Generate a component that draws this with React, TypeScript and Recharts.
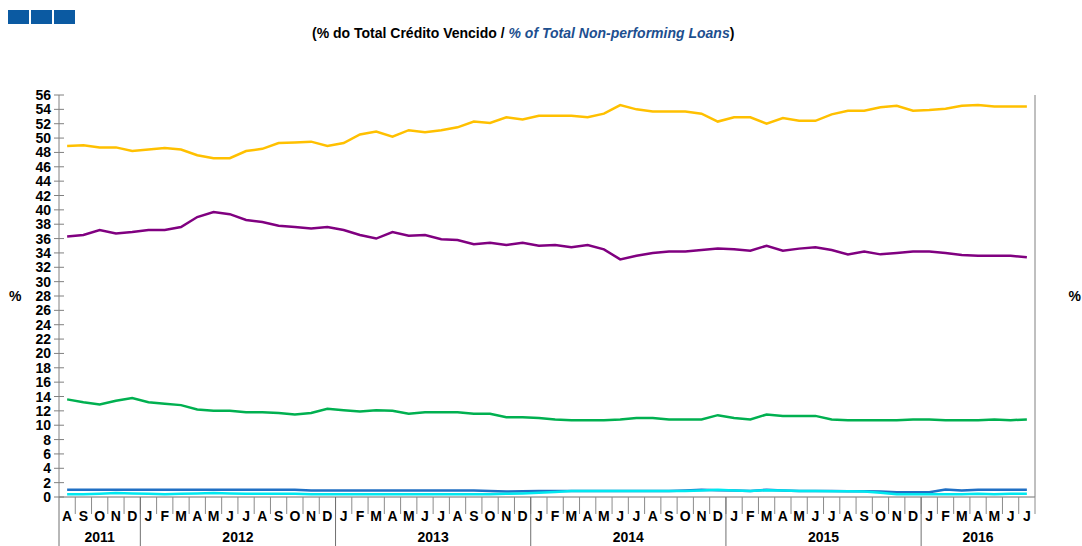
import { LineChart, Line, XAxis, YAxis } from 'recharts';

// Aug 2011 .. Jul 2016, monthly
const MONTHS = [
  'A', 'S', 'O', 'N', 'D',
  'J', 'F', 'M', 'A', 'M', 'J', 'J', 'A', 'S', 'O', 'N', 'D',
  'J', 'F', 'M', 'A', 'M', 'J', 'J', 'A', 'S', 'O', 'N', 'D',
  'J', 'F', 'M', 'A', 'M', 'J', 'J', 'A', 'S', 'O', 'N', 'D',
  'J', 'F', 'M', 'A', 'M', 'J', 'J', 'A', 'S', 'O', 'N', 'D',
  'J', 'F', 'M', 'A', 'M', 'J', 'J',
];
const YEARS = ['2011', '2012', '2013', '2014', '2015', '2016'];
const YEAR_MONTHS = [5, 12, 12, 12, 12, 7];

const YELLOW = [
  48.9, 49.0, 48.7, 48.7, 48.2,
  48.4, 48.6, 48.4, 47.6, 47.2, 47.2, 48.2, 48.5, 49.3, 49.4, 49.5, 48.9,
  49.3, 50.5, 50.9, 50.2, 51.1, 50.8, 51.1, 51.5, 52.3, 52.1, 52.9, 52.6,
  53.1, 53.1, 53.1, 52.9, 53.4, 54.6, 54.0, 53.7, 53.7, 53.7, 53.4, 52.3,
  52.9, 52.9, 52.0, 52.8, 52.4, 52.4, 53.3, 53.8, 53.8, 54.3, 54.5, 53.8,
  53.9, 54.1, 54.5, 54.6, 54.4, 54.4, 54.4,
];
const PURPLE = [
  36.3, 36.5, 37.2, 36.7, 36.9,
  37.2, 37.2, 37.6, 39.0, 39.7, 39.4, 38.6, 38.3, 37.8, 37.6, 37.4, 37.6,
  37.2, 36.5, 36.0, 36.9, 36.4, 36.5, 35.9, 35.8, 35.2, 35.4, 35.1, 35.4,
  35.0, 35.1, 34.8, 35.1, 34.5, 33.1, 33.6, 34.0, 34.2, 34.2, 34.4, 34.6,
  34.5, 34.3, 35.0, 34.3, 34.6, 34.8, 34.4, 33.8, 34.2, 33.8, 34.0, 34.2,
  34.2, 34.0, 33.7, 33.6, 33.6, 33.6, 33.4,
];
const GREEN = [
  13.6, 13.2, 12.9, 13.4, 13.8,
  13.2, 13.0, 12.8, 12.2, 12.0, 12.0, 11.8, 11.8, 11.7, 11.5, 11.7, 12.3,
  12.1, 11.9, 12.1, 12.0, 11.6, 11.8, 11.8, 11.8, 11.6, 11.6, 11.1, 11.1,
  11.0, 10.8, 10.7, 10.7, 10.7, 10.8, 11.0, 11.0, 10.8, 10.8, 10.8, 11.4,
  11.0, 10.8, 11.5, 11.3, 11.3, 11.3, 10.8, 10.7, 10.7, 10.7, 10.7, 10.8,
  10.8, 10.7, 10.7, 10.7, 10.8, 10.7, 10.8,
];
const BLUE = [
  1.0, 1.0, 1.0, 1.0, 1.0,
  1.0, 1.0, 1.0, 1.0, 1.0, 1.0, 1.0, 1.0, 1.0, 1.0, 0.9, 0.9,
  0.9, 0.9, 0.9, 0.9, 0.9, 0.9, 0.9, 0.9, 0.9, 0.85, 0.75, 0.8,
  0.85, 0.85, 0.85, 0.85, 0.85, 0.85, 0.85, 0.85, 0.85, 0.9, 1.0, 0.95,
  0.9, 0.85, 1.0, 0.9, 0.85, 0.85, 0.85, 0.8, 0.8, 0.75, 0.65, 0.65,
  0.65, 1.05, 0.9, 1.0, 1.0, 1.0, 1.0,
];
const CYAN = [
  0.4, 0.4, 0.45, 0.55, 0.5,
  0.45, 0.4, 0.45, 0.5, 0.55, 0.5, 0.45, 0.45, 0.45, 0.45, 0.4, 0.4,
  0.4, 0.4, 0.4, 0.4, 0.4, 0.4, 0.4, 0.4, 0.4, 0.4, 0.45, 0.5,
  0.6, 0.7, 0.85, 0.85, 0.85, 0.85, 0.85, 0.85, 0.85, 0.85, 0.9, 1.0,
  0.9, 0.85, 0.95, 0.9, 0.85, 0.85, 0.8, 0.8, 0.75, 0.6, 0.4, 0.4,
  0.4, 0.4, 0.4, 0.45, 0.4, 0.45, 0.45,
];
const Y_TICKS = Array.from({ length: 29 }, (_, i) => i * 2);

const W = 1082;
const H = 546;
const LEFT_W = 59;
const RIGHT_W = 47;
const PLOT_W = W - LEFT_W - RIGHT_W;
const STEP = PLOT_W / MONTHS.length;
const FONT = '"Liberation Sans", Arial, sans-serif';

const data = MONTHS.map((m, i) => ({
  idx: i,
  yellow: YELLOW[i],
  purple: PURPLE[i],
  green: GREEN[i],
  blue: BLUE[i],
  cyan: CYAN[i],
}));

// first month index of every year
const yearStarts: number[] = [];
YEAR_MONTHS.reduce((acc, n) => { yearStarts.push(acc); return acc + n; }, 0);

function MonthTick({ x, y, payload }: any) {
  const i = payload.index ?? payload.value;
  const yi = yearStarts.indexOf(i);
  const left = x - STEP / 2;
  const right = x + STEP / 2;
  return (
    <g>
      <text x={x} y={y + 24} textAnchor="middle" fontFamily={FONT} fontWeight="bold" fontSize={14} fill="#000">
        {MONTHS[i]}
      </text>
      <line x1={right} y1={y} x2={right} y2={y + 17} stroke="#8c8c8c" />
      {yi >= 0 && (
        <>
          <line x1={left} y1={y} x2={left} y2={H} stroke="#707070" />
          <text x={left + (YEAR_MONTHS[yi] * STEP) / 2} y={y + 45} textAnchor="middle" fontFamily={FONT} fontWeight="bold" fontSize={14} fill="#000">
            {YEARS[yi]}
          </text>
        </>
      )}
    </g>
  );
}

function LeftTick({ x, y, payload }: any) {
  return (
    <g>
      <line x1={x - 5} y1={y} x2={x + 5} y2={y} stroke="#808080" />
      <text x={x - 8} y={y + 5} textAnchor="end" fontFamily={FONT} fontWeight="bold" fontSize={14} fill="#000">
        {payload.value}
      </text>
    </g>
  );
}

function RightTick({ x, y, payload }: any) {
  return (
    <g>
      <line x1={x - 5} y1={y} x2={x + 5} y2={y} stroke="#808080" />
      <text x={x + 12} y={y + 5} textAnchor="start" fontFamily={FONT} fontWeight="bold" fontSize={14} fill="#000">
        {payload.value}
      </text>
    </g>
  );
}

export default function App() {
  return (
    <div style={{ position: 'absolute', left: 0, top: 0, width: W, height: H, background: '#fff', overflow: 'hidden' }}>
      {/* blue squares */}
      {[8, 31, 54].map((l) => (
        <div key={l} style={{ position: 'absolute', left: l, top: 10, width: 21, height: 14, background: '#0b5aa2' }} />
      ))}
      <div
        style={{
          position: 'absolute', left: 312, top: 25, whiteSpace: 'nowrap',
          fontFamily: FONT, fontWeight: 'bold', fontSize: 14, lineHeight: '16px', color: '#000',
        }}
      >
        (% do Total Crédito Vencido /{' '}
        <span style={{ fontStyle: 'italic', color: '#1d4f8f' }}>% of Total Non-performing Loans</span>)
      </div>

      <LineChart width={W} height={H} data={data} margin={{ top: 95, right: 0, bottom: 0, left: 0 }}>
        <XAxis
          dataKey="idx"
          height={49}
          interval={0}
          padding={{ left: STEP / 2, right: STEP / 2 }}
          tickLine={false}
          tickSize={0}
          tickMargin={0}
          axisLine={{ stroke: '#707070' }}
          tick={<MonthTick />}
        />
        <YAxis
          yAxisId="l"
          orientation="left"
          width={LEFT_W}
          domain={[0, 56]}
          ticks={Y_TICKS}
          interval={0}
          tickLine={false}
          tickSize={0}
          tickMargin={0}
          axisLine={{ stroke: '#808080' }}
          tick={<LeftTick />}
          label={{ value: '%', position: 'insideLeft', offset: 9, fontFamily: FONT, fontWeight: 'bold', fontSize: 14, fill: '#000' }}
        />
        <YAxis
          yAxisId="r"
          orientation="right"
          width={RIGHT_W}
          domain={[0, 56]}
          ticks={Y_TICKS}
          interval={0}
          tickLine={false}
          tickSize={0}
          tickMargin={0}
          axisLine={{ stroke: '#808080' }}
          tick={<RightTick />}
          label={{ value: '%', position: 'insideRight', offset: 1, fontFamily: FONT, fontWeight: 'bold', fontSize: 14, fill: '#000' }}
        />
        <Line yAxisId="l" dataKey="yellow" stroke="#ffc000" strokeWidth={2.5} dot={false} isAnimationActive={false} />
        <Line yAxisId="l" dataKey="purple" stroke="#800080" strokeWidth={2.5} dot={false} isAnimationActive={false} />
        <Line yAxisId="l" dataKey="green" stroke="#00b050" strokeWidth={2.5} dot={false} isAnimationActive={false} />
        <Line yAxisId="l" dataKey="blue" stroke="#1f6fc4" strokeWidth={2.5} dot={false} isAnimationActive={false} />
        <Line yAxisId="l" dataKey="cyan" stroke="#00e8f0" strokeWidth={2.5} dot={false} isAnimationActive={false} />
      </LineChart>
    </div>
  );
}
